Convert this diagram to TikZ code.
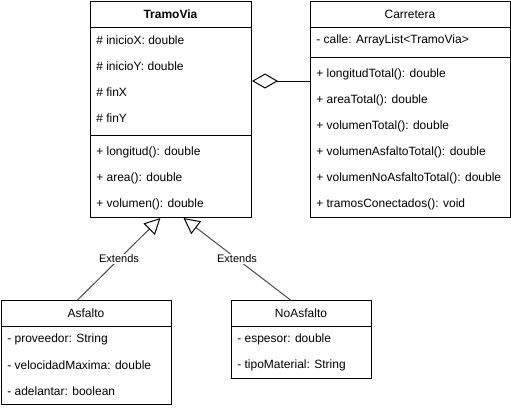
\documentclass[tikz,border=0pt]{standalone}
\usepackage{fontspec}
\setmainfont{Liberation Sans}
\usetikzlibrary{arrows.meta}
\begin{document}
\begin{tikzpicture}[x=0.75pt,y=-0.75pt,
  classbox/.style={draw,line width=0.75pt,anchor=north west,inner sep=0pt,fill=white},
  attr/.style={anchor=west,inner sep=0pt,font=\fontsize{9pt}{10pt}\selectfont},
  ttl/.style={inner sep=0pt,font=\fontsize{9pt}{10pt}\selectfont},
  sep/.style={line width=0.75pt},
  aggr/.style={line width=0.75pt,-{Diamond[open,length=19.5pt,width=11.25pt,line width=0.75pt]}},
  ext/.style={line width=0.75pt,draw=black!70,-{Triangle[open,length=12pt,width=12pt,line width=0.75pt,color=black]}},
  lbl/.style={fill=white,inner sep=1pt,font=\fontsize{8.25pt}{9pt}\selectfont,text=black}
]
\useasboundingbox (0,0) rectangle (511,408);
% TramoVia
\node[classbox,minimum width=120.75pt,minimum height=162pt] (tv) at (90,1) {};
\draw[sep] ([yshift=-19.5pt]tv.north west) -- ([yshift=-19.5pt]tv.north east);
\draw[sep] ([yshift=-100.5pt]tv.north west) -- ([yshift=-100.5pt]tv.north east);
\node[ttl] (tvt) at (170.5,14) {\textbf{TramoVia}};
\node[attr] (tva1) at (96,40) {\# inicioX: double};
\node[attr] (tva2) at (96,66) {\# inicioY: double};
\node[attr] (tva3) at (96,92) {\# finX};
\node[attr] (tva4) at (96,118) {\# finY};
\node[attr] (tvm1) at (96,152) {+ longitud(): double};
\node[attr] (tvm2) at (96,178) {+ area(): double};
\node[attr] (tvm3) at (96,204) {+ volumen(): double};
% Carretera
\node[classbox,minimum width=150pt,minimum height=162pt] (car) at (310,1) {};
\draw[sep] ([yshift=-19.5pt]car.north west) -- ([yshift=-19.5pt]car.north east);
\draw[sep] ([yshift=-42pt]car.north west) -- ([yshift=-42pt]car.north east);
\node[ttl] (cart) at (410,14) {Carretera};
\node[attr] (cara1) at (316,40) {- calle: ArrayList<TramoVia>};
\node[attr] (carm1) at (316,74) {+ longitudTotal(): double};
\node[attr] (carm2) at (316,100) {+ areaTotal(): double};
\node[attr] (carm3) at (316,126) {+ volumenTotal(): double};
\node[attr] (carm4) at (316,152) {+ volumenAsfaltoTotal(): double};
\node[attr] (carm5) at (316,178) {+ volumenNoAsfaltoTotal(): double};
\node[attr] (carm6) at (316,204) {+ tramosConectados(): void};
% Asfalto
\node[classbox,minimum width=127.5pt,minimum height=78pt] (asf) at (1,300) {};
\draw[sep] ([yshift=-19.5pt]asf.north west) -- ([yshift=-19.5pt]asf.north east);
\node[ttl] (asft) at (86,313) {Asfalto};
\node[attr] (asfa1) at (7,339) {- proveedor: String};
\node[attr] (asfa2) at (7,365) {- velocidadMaxima: double};
\node[attr] (asfa3) at (7,391) {- adelantar: boolean};
% NoAsfalto
\node[classbox,minimum width=105pt,minimum height=58.5pt] (nas) at (231,300) {};
\draw[sep] ([yshift=-19.5pt]nas.north west) -- ([yshift=-19.5pt]nas.north east);
\node[ttl] (nast) at (301,313) {NoAsfalto};
\node[attr] (nasa1) at (237,339) {- espesor: double};
\node[attr] (nasa2) at (237,365) {- tipoMaterial: String};
% connectors
\draw[aggr] ([yshift=-60pt]car.north west) -- ([yshift=-60pt]tv.north east);
\draw[ext] ([xshift=-6.75pt]asf.north) -- node[lbl] (l1) {Extends} ([xshift=-7.875pt]tv.south);
\draw[ext] ([xshift=-8.25pt]nas.north) -- node[lbl] (l2) {Extends} ([xshift=9.375pt]tv.south);
\end{tikzpicture}
\end{document}
